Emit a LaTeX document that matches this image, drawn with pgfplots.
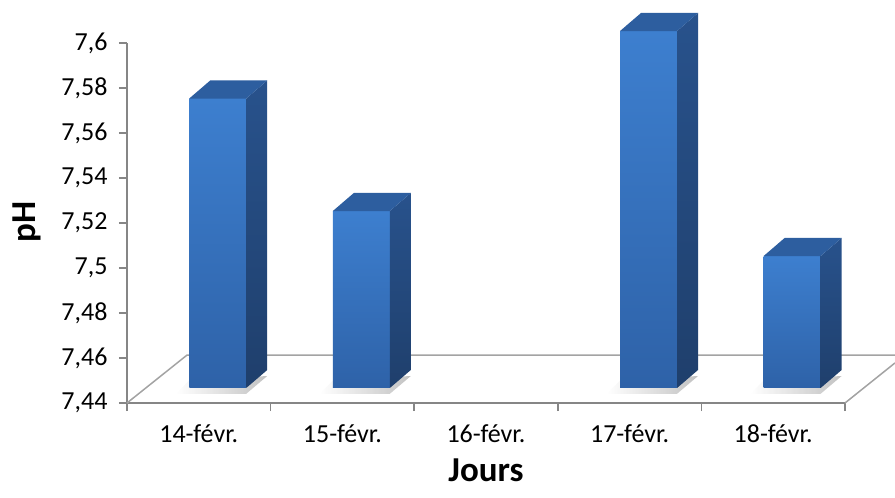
\documentclass[border=0pt]{standalone}
\usepackage{pgfplots}
\pgfplotsset{compat=1.18}
\usepackage{fontspec}
\setmainfont{Carlito}

\definecolor{axisgray}{HTML}{868686}
\definecolor{floorgray}{HTML}{A3A3A3}
\definecolor{frontTop}{HTML}{3D7FCF}
\definecolor{frontBot}{HTML}{2E62A8}
\definecolor{sideTop}{HTML}{28528C}
\definecolor{sideBot}{HTML}{1F3F6C}
\definecolor{topFace}{HTML}{2D5E9F}

% One 3-D column: #1 = category centre, #2 = pH value.
% Soft floor shadow, then front face, right side face and top face,
% all as filled polygons in axis units.
\newcommand{\colbar}[2]{%
  \pgfmathsetmacro\xl{#1-0.0665}%
  \pgfmathsetmacro\xs{#1-0.16}%
  \pgfmathsetmacro\xr{#1+0.3305}%
  \pgfmathsetmacro\xb{#1+0.4765}%
  \pgfmathsetmacro\xlb{#1+0.0795}%
  \pgfmathsetmacro\yf{#2+0.00533}%
  \pgfmathsetmacro\yk{#2+0.01333}%
  \addplot[draw=none, left color=white, right color=black!30, opacity=0.8]
    coordinates {(\xs,7.4441) (\xr,7.4441) (\xb,7.4520) (\xl,7.4500)};
  \addplot[draw=none, top color=frontTop, bottom color=frontBot]
    coordinates {(\xl,7.44667) (\xr,7.44667) (\xr,\yf) (\xl,\yf)};
  \addplot[draw=none, top color=sideTop, bottom color=sideBot]
    coordinates {(\xr,7.44667) (\xb,7.45467) (\xb,\yk) (\xr,\yf)};
  \addplot[draw=none, fill=topFace]
    coordinates {(\xl,\yf) (\xr,\yf) (\xb,\yk) (\xlb,\yk)};
}

\begin{document}
\begin{tikzpicture}
\begin{axis}[
  name=ax,
  scale only axis,
  width=718pt, height=360pt,
  xmin=0, xmax=5,
  ymin=7.44, ymax=7.6,
  clip=false,
  axis x line*=bottom,
  axis y line*=left,
  axis line style={-, axisgray, line width=1.5pt},
  tick style={axisgray, line width=1.5pt},
  tick align=outside,
  major tick length=8pt,
  xtick={0,1,2,3,4,5},
  x tick label as interval,
  xticklabels={14-févr.,15-févr.,16-févr.,17-févr.,18-févr.},
  ytick={7.44,7.46,7.48,7.5,7.52,7.54,7.56,7.58,7.6},
  yticklabels={{7,44},{7,46},{7,48},{7,5},{7,52},{7,54},{7,56},{7,58},{7,6}},
  tick label style={font=\fontsize{26}{30}\selectfont, text=black},
  xticklabel style={yshift=-10pt},
  yticklabel style={xshift=-8pt},
  xlabel={Jours},
  ylabel={pH},
  label style={font=\fontsize{35}{40}\selectfont\bfseries, text=black},
  xlabel style={at={(axis description cs:0.5,-0.186)}, anchor=center},
  ylabel style={at={(axis description cs:-0.139,0.503)}, anchor=center, rotate=0},
]
% floor of the 3-D plot area
\addplot[floorgray, line width=1.5pt] coordinates {(0,7.44) (0.418,7.4613) (5.348,7.4613)};
\addplot[floorgray, line width=1.5pt] coordinates {(5,7.44) (5.348,7.4578)};

% columns (16-févr.: no measurement)
\colbar{0.5}{7.57}
\colbar{1.5}{7.52}
\colbar{3.5}{7.60}
\colbar{4.5}{7.50}
\end{axis}
\pgfresetboundingbox
\path[use as bounding box] ([shift={(-127pt,-94pt)}]ax.south west) rectangle ([shift={(50pt,43pt)}]ax.north east);
\end{tikzpicture}
\end{document}
